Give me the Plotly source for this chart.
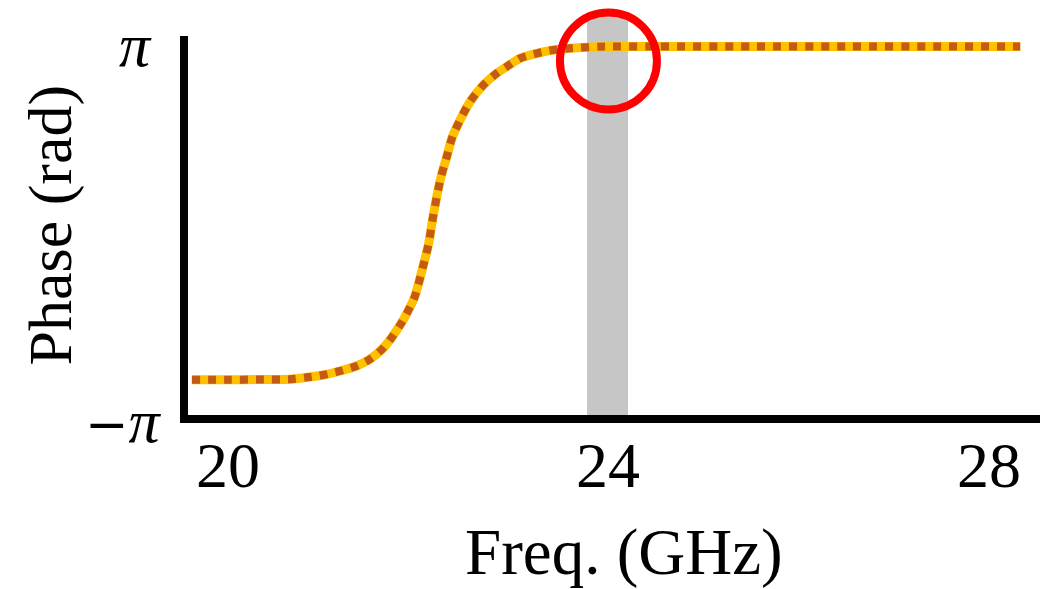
import plotly.graph_objects as go
import math

# ---- data ----
freq_ghz = [19.62, 20.0, 20.3, 20.65, 20.83, 21.0, 21.18, 21.35, 21.49, 21.62, 21.72,
            21.81, 21.88, 21.96, 22.05, 22.11, 22.15, 22.195, 22.24, 22.30, 22.36,
            22.44, 22.545, 22.685, 22.825, 22.95, 23.07, 23.25, 23.42, 23.6, 23.91,
            24.5, 25.5, 26.5, 27.5, 28.33]
phase_rad = [-2.355, -2.355, -2.352, -2.348, -2.315, -2.276, -2.209, -2.126, -2.014, -1.846, -1.653,
             -1.440, -1.245, -0.98, -0.465, -0.074, 0.316, 0.705, 1.040, 1.374, 1.709,
             1.988, 2.294, 2.573, 2.769, 2.90, 3.019, 3.103, 3.158, 3.187, 3.213,
             3.215, 3.215, 3.215, 3.215, 3.215]

x_tick_vals = [20, 24, 28]
x_tick_text = ["20", "24", "28"]
y_tick_vals = [math.pi, -math.pi]
y_tick_text = ["<i>π</i>",
               "<span style='font-family:DejaVu Sans;font-size:52px'>−</span><i>π</i>"]

band_ghz = [23.775, 24.206]          # highlighted band
circle_center_ghz = 24.0

x_range = [19.579, 28.538]
y_range = [-2.945, 3.392]

FONT = "Liberation Serif"
PLOT_L, PLOT_R, PLOT_T, PLOT_B = 188, 1040, 36, 415
PW, PH = PLOT_R - PLOT_L, PLOT_B - PLOT_T


def px_x(p):
    return (p - PLOT_L) / PW


def px_y(p):
    return (PLOT_B - p) / PH


fig = go.Figure()

fig.add_trace(go.Scatter(
    x=freq_ghz, y=phase_rad, mode="lines",
    line=dict(color="#FFC000", width=9, shape="spline", smoothing=0.8),
    hoverinfo="skip", showlegend=False, cliponaxis=False))
fig.add_trace(go.Scatter(
    x=freq_ghz, y=phase_rad, mode="lines",
    line=dict(color="#C55A11", width=8, shape="spline", smoothing=0.8, dash="8px,8px"),
    hoverinfo="skip", showlegend=False, cliponaxis=False))

fig.add_shape(type="rect", xref="x", yref="paper",
              x0=band_ghz[0], x1=band_ghz[1], y0=0, y1=px_y(15),
              fillcolor="#C6C6C6", line=dict(width=0), layer="below")
fig.add_shape(type="circle", xref="x", yref="paper",
              x0=circle_center_ghz - 48.5 / 95.1, x1=circle_center_ghz + 48.5 / 95.1,
              y0=px_y(61 + 48.5), y1=px_y(61 - 48.5),
              line=dict(color="#FF0000", width=8), layer="above")

# y tick labels (−π sits just below the axis line)
fig.add_annotation(x=px_x(154), xref="paper", y=px_y(51), yref="paper", yshift=6,
                   text=y_tick_text[0], showarrow=False, xanchor="right", yanchor="middle",
                   font=dict(family=FONT, size=62, color="black"))
fig.add_annotation(x=px_x(164), xref="paper", y=px_y(427), yref="paper", yshift=6,
                   text=y_tick_text[1], showarrow=False, xanchor="right", yanchor="middle",
                   font=dict(family=FONT, size=62, color="black"))

# x tick labels
for v, t in zip(x_tick_vals, x_tick_text):
    fig.add_annotation(x=v, xref="x", y=px_y(465), yref="paper", text=t, showarrow=False,
                       xanchor="center", yanchor="middle",
                       font=dict(family=FONT, size=64, color="black"))

fig.add_annotation(x=px_x(50), xref="paper", y=0.5, yref="paper",
                   text="Phase (rad)", textangle=-90, showarrow=False,
                   xanchor="center", yanchor="middle",
                   font=dict(family=FONT, size=62, color="black"))
fig.add_annotation(x=px_x(624), xref="paper", y=px_y(552), yref="paper",
                   text="Freq. (GHz)", showarrow=False,
                   xanchor="center", yanchor="middle",
                   font=dict(family=FONT, size=65, color="black"))

fig.update_layout(
    width=1043, height=589,
    margin=dict(l=PLOT_L, r=1043 - PLOT_R, t=PLOT_T, b=589 - PLOT_B),
    paper_bgcolor="white", plot_bgcolor="white",
    xaxis=dict(range=x_range, showgrid=False, zeroline=False, showline=True,
               linecolor="black", linewidth=8, ticks="", showticklabels=False),
    yaxis=dict(range=y_range, showgrid=False, zeroline=False, showline=True,
               linecolor="black", linewidth=8, ticks="", showticklabels=False),
)

fig.write_html("out.html")
